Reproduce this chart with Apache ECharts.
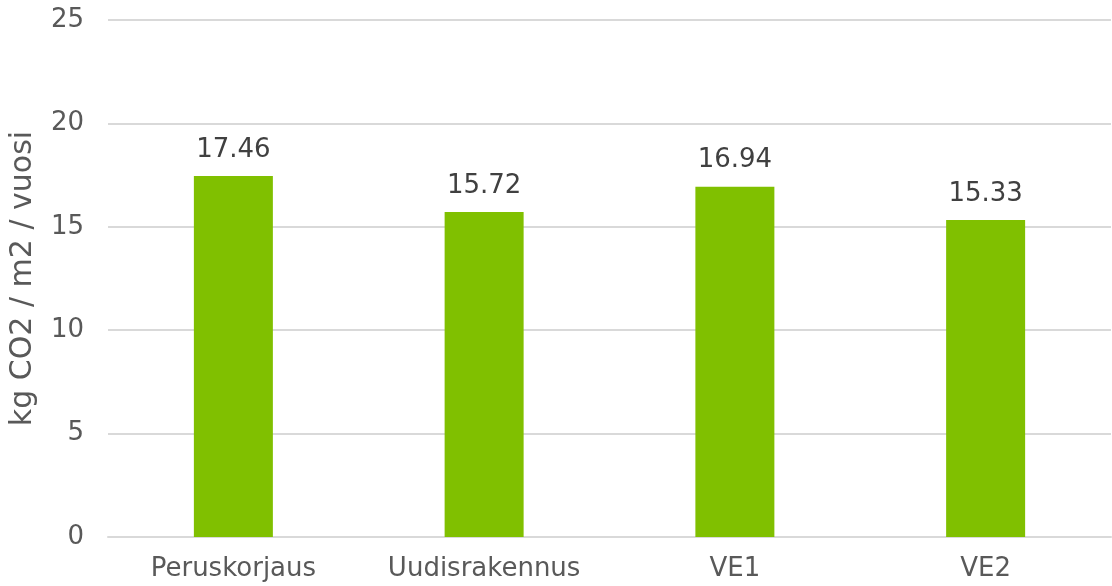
<!DOCTYPE html>
<html>
<head>
<meta charset="utf-8">
<script src="https://cdn.jsdelivr.net/npm/echarts@6/dist/echarts.min.js"></script>
<style>
  html, body { margin: 0; padding: 0; background: #fff; }
  #chart { width: 1112px; height: 586px; }
</style>
</head>
<body>
<div id="chart"></div>
<script>
const categories = ["Peruskorjaus", "Uudisrakennus", "VE1", "VE2"];
const values = [17.46, 15.72, 16.94, 15.33];
const yTicks = [0, 5, 10, 15, 20, 25];

const font = "DejaVu Sans, Verdana, sans-serif";

let chart = echarts.init(document.getElementById("chart"));
chart.setOption({
    animation: false,
    grid: { left: 104, right: 1, top: 20, bottom: 49, containLabel: false },
    xAxis: {
        type: "category",
        data: categories,
        axisLine: { lineStyle: { color: "#d9d9d9", width: 2 } },
        axisTick: { show: false },
        axisLabel: { color: "#595959", fontSize: 26, fontFamily: font, margin: 19 }
    },
    yAxis: {
        type: "value",
        min: yTicks[0],
        max: yTicks[yTicks.length - 1],
        interval: 5,
        name: "kg CO2 / m2 / vuosi",
        nameLocation: "middle",
        nameGap: 70,
        nameTextStyle: { color: "#595959", fontSize: 30, fontFamily: font },
        axisLine: { show: false },
        axisTick: { show: false },
        axisLabel: { color: "#595959", fontSize: 26, fontFamily: font, margin: 24 },
        splitLine: { lineStyle: { color: "#d9d9d9", width: 2 } }
    },
    series: [{
        type: "bar",
        data: values,
        barWidth: 79,
        itemStyle: { color: "#80c000" },
        label: {
            show: true,
            position: "top",
            distance: 13,
            color: "#404040",
            fontSize: 26,
            fontFamily: font,
            formatter: p => p.value.toFixed(2)
        }
    }]
});
</script>
</body>
</html>
